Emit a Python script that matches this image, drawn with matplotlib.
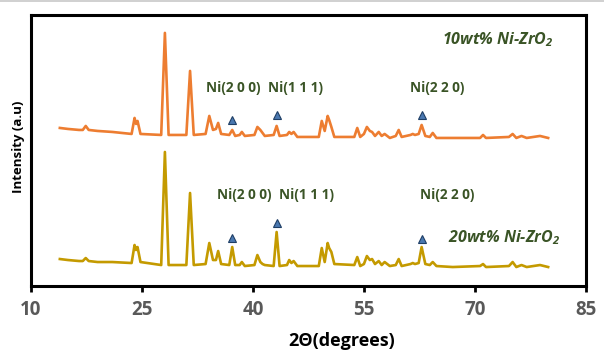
import numpy as np
import matplotlib
matplotlib.use('Agg')
import matplotlib.pyplot as plt
from matplotlib.lines import Line2D

fam = 'Open Sans'
plt.rcParams['font.family'] = [fam, 'DejaVu Sans']
plt.rcParams['mathtext.fontset'] = 'custom'
plt.rcParams['mathtext.rm'] = fam
plt.rcParams['mathtext.it'] = fam + ':italic'
plt.rcParams['mathtext.bf'] = fam + ':bold'
plt.rcParams['mathtext.bfit'] = fam + ':italic:bold'

# 2theta positions (same grid for both patterns)
two_theta = [13.9, 15.0, 16.5, 17.0, 17.4, 17.8, 19.0, 21.0, 23.6, 24.0, 24.2, 24.4, 24.8,
             27.6, 28.1, 28.6, 31.0, 31.5, 32.0, 33.6, 34.1, 34.6, 35.0, 35.3, 35.7,
             36.8, 37.2, 37.6, 38.2, 38.5, 38.9, 40.2, 40.6, 41.0, 41.3, 41.6, 42.8,
             43.2, 43.6, 44.6, 44.9, 45.2, 45.5, 46.0, 48.9, 49.3, 49.7, 50.1, 50.3,
             50.6, 51.0, 53.7, 54.1, 54.5, 55.0, 55.4, 55.8, 56.1, 56.5, 57.0, 57.4,
             57.8, 58.5, 59.3, 59.7, 60.1, 61.3, 61.6, 61.9, 62.4, 62.8, 63.3, 63.9,
             64.3, 64.8, 67.0, 70.7, 71.1, 71.5, 74.6, 75.1, 75.6, 76.3, 77.0, 78.8, 79.9]

# 10wt% Ni-ZrO2 (stacked on top)
int_10 = [158, 157, 156, 156, 160, 156, 155, 154, 152, 168, 162, 165, 152,
          151, 253, 151, 151, 215, 151, 152, 170, 156, 157, 163, 152,
          151, 156, 150, 151, 154, 150, 151, 159, 156, 153, 150, 151,
          160, 150, 151, 154, 152, 154, 149, 149, 165, 155, 170, 166,
          159, 149, 149, 158, 149, 152, 159, 155, 154, 150, 154, 150,
          152, 148, 150, 156, 149, 151, 152, 151, 152, 161, 150, 149,
          153, 148, 148, 148, 151, 148, 149, 152, 148, 150, 148, 150, 148]

# 20wt% Ni-ZrO2
int_20 = [27, 26, 25, 25, 28, 25, 24, 24, 23, 41, 36, 39, 24,
          21, 134, 21, 21, 93, 21, 22, 43, 26, 26, 35, 22,
          21, 39, 21, 21, 24, 20, 21, 31, 24, 22, 21, 20,
          54, 20, 21, 26, 23, 25, 20, 20, 38, 24, 43, 38,
          34, 22, 21, 29, 20, 22, 30, 26, 27, 22, 25, 21,
          24, 20, 21, 27, 20, 22, 23, 22, 23, 39, 22, 21,
          24, 20, 19, 20, 22, 19, 20, 24, 19, 21, 19, 21, 19]

ni_peaks = [37.2, 43.2, 62.8]
ni_mark_10 = [166, 171, 171]
ni_mark_20 = [48, 63, 47]
ni_labels = ['Ni(2 0 0)', 'Ni(1 1 1)', 'Ni(2 2 0)']
lab_x_10 = [37.4, 45.8, 64.9]
lab_x_20 = [38.8, 47.3, 66.2]

green = '#3a5426'

fig = plt.figure(figsize=(6.04, 3.63), dpi=100)
ax = fig.add_axes([0.0513, 0.212, 0.9187, 0.747])

# thin grey border at the very top of the screenshot
fig.add_artist(Line2D([0, 1], [0.997, 0.997], color='#c8c8c8', lw=1.2))

ax.plot(two_theta, int_10, color='#ed7d31', lw=1.9, solid_joinstyle='round')
ax.plot(two_theta, int_20, color='#c49a00', lw=1.9, solid_joinstyle='round')

ax.plot(ni_peaks, ni_mark_10, '^', ms=6, mfc='#4a78b0', mec='#1f3f66', mew=0.8)
ax.plot(ni_peaks, ni_mark_20, '^', ms=6, mfc='#4a78b0', mec='#1f3f66', mew=0.8)

for lab, x1, x2 in zip(ni_labels, lab_x_10, lab_x_20):
    ax.text(x1, 198, lab, ha='center', va='center', fontsize=9.8, fontweight='bold', color=green)
    ax.text(x2, 91, lab, ha='center', va='center', fontsize=9.8, fontweight='bold', color=green)

ax.text(73.1, 246, r'10wt% Ni-ZrO$_{\mathbfit{2}}$', ha='center', va='center', fontsize=11.5,
        fontweight='bold', fontstyle='italic', color=green)
ax.text(74.0, 48, r'20wt% Ni-ZrO$_{\mathbfit{2}}$', ha='center', va='center', fontsize=11.5,
        fontweight='bold', fontstyle='italic', color=green)

ax.set_xlim(10, 85)
ax.set_ylim(0, 271)
ax.set_xticks([10, 25, 40, 55, 70, 85])
ax.set_yticks([])
for s in ax.spines.values():
    s.set_linewidth(2.2)
ax.tick_params(axis='x', direction='out', length=4, width=2, labelsize=13.5,
               labelcolor='#595959', pad=6)
for t in ax.get_xticklabels():
    t.set_fontweight('bold')

ax.set_xlabel('2Θ(degrees)', fontsize=13, fontweight='bold', va='center')
ax.xaxis.set_label_coords(0.56, -0.203)
ax.set_ylabel('Intensity (a.u)', fontsize=9.5, fontweight='bold', va='center')
ax.yaxis.set_label_coords(-0.0216, 0.513)

fig.savefig('out.png', dpi=100)
